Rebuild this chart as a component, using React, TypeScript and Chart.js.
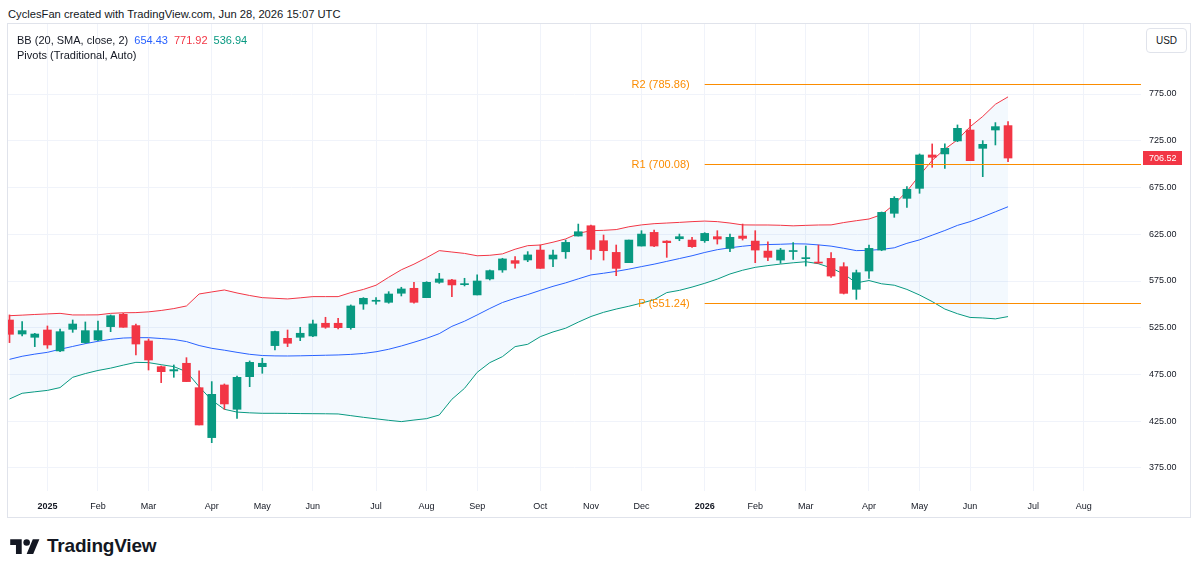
import React, { useEffect, useRef } from 'react';
import { Chart, registerables } from 'chart.js';

Chart.register(...registerables);

// Weekly bars, index 0 = week of Dec 16, 2024 ... index 79 = week of Jun 22, 2026
const opens = [
  533.3, 518.3, 514.8, 522.6, 500.2, 523.3, 509.1, 511.9, 526.2, 539.4,
  527.3, 510.9, 483.4, 478.8, 487.0, 460.9, 407.5, 463.8, 437.8, 472.7,
  483.4, 505.9, 513.7, 514.8, 516.2, 529.8, 529.8, 525.1, 550.4, 553.3,
  552.2, 561.9, 567.2, 557.2, 573.6, 576.1, 571.1, 560.1, 577.2, 586.8,
  596.8, 597.5, 608.1, 598.5, 606.3, 623.1, 634.1, 618.1, 605.6, 594.6,
  612.4, 627.0, 617.7, 620.2, 618.8, 618.1, 622.4, 609.9, 623.1, 617.7,
  607.0, 597.4, 606.5, 598.9, 595.0, 599.2, 590.3, 566.1, 585.7, 608.1,
  647.4, 663.4, 674.1, 709.8, 710.9, 724.8, 736.5, 716.9, 736.5, 741.2,
];
const highs = [
  538.7, 531.5, 519.0, 526.9, 523.7, 533.3, 531.2, 532.2, 538.7, 540.4,
  529.0, 513.0, 484.1, 485.2, 493.0, 478.8, 467.4, 464.9, 473.4, 489.5,
  492.3, 521.5, 522.6, 525.5, 533.3, 536.2, 535.1, 549.4, 557.2, 557.2,
  563.6, 568.3, 573.6, 574.3, 583.2, 576.8, 577.9, 581.5, 586.8, 599.3,
  601.1, 606.4, 613.5, 608.1, 618.8, 635.9, 634.9, 624.2, 613.5, 618.8,
  628.8, 629.5, 618.1, 625.2, 621.7, 626.7, 628.8, 625.2, 635.9, 628.8,
  617.0, 609.9, 616.0, 612.4, 613.5, 605.3, 594.6, 586.7, 613.5, 648.8,
  665.2, 675.9, 710.9, 721.6, 721.6, 741.9, 747.9, 725.1, 744.4, 745.4,
];
const lows = [
  509.1, 516.2, 504.8, 503.0, 499.4, 520.1, 508.4, 511.2, 520.8, 525.5,
  495.9, 479.8, 466.3, 472.0, 467.4, 421.0, 402.1, 437.8, 428.1, 462.0,
  476.3, 501.2, 504.8, 511.2, 515.5, 524.4, 523.7, 523.4, 544.7, 550.1,
  551.2, 559.0, 551.2, 557.2, 572.5, 558.3, 569.7, 560.1, 576.1, 584.3,
  588.6, 595.7, 588.5, 590.3, 599.2, 623.1, 598.1, 597.4, 580.7, 594.6,
  612.4, 611.7, 600.3, 618.1, 611.0, 616.3, 614.5, 606.3, 618.8, 594.6,
  596.7, 593.9, 598.1, 591.0, 593.9, 578.9, 561.1, 555.4, 577.8, 607.4,
  643.1, 653.8, 668.8, 696.6, 695.5, 724.0, 703.7, 686.6, 720.5, 702.7,
];
const closes = [
  518.0, 521.9, 518.3, 506.6, 520.8, 529.0, 521.9, 521.9, 537.9, 525.5,
  507.6, 490.5, 478.0, 480.2, 467.4, 421.0, 453.8, 443.5, 472.0, 488.0,
  487.0, 521.0, 508.4, 519.1, 529.1, 525.5, 525.1, 548.3, 556.5, 554.4,
  561.1, 566.5, 552.2, 573.6, 577.2, 570.8, 571.8, 575.0, 586.1, 598.6,
  593.9, 602.9, 588.5, 602.8, 616.3, 627.7, 608.8, 607.4, 588.5, 618.8,
  625.2, 612.4, 616.0, 622.4, 611.7, 625.9, 619.9, 621.7, 620.6, 608.1,
  600.3, 608.1, 607.5, 599.6, 594.2, 580.3, 561.8, 583.9, 609.9, 648.4,
  663.4, 673.1, 709.8, 707.3, 716.9, 738.3, 703.7, 721.2, 740.1, 706.52,
];

// Bollinger Bands (20, SMA, close, 2)
const bbUpper = [
  537.9, 538.5, 539.2, 539.8, 540.4, 538.7, 538.7, 538.8, 540.4, 541.0,
  541.2, 542.0, 543.5, 545.5, 548.3, 561.1, 563.3, 565.4, 562.2, 559.5,
  557.2, 556.5, 555.8, 557.0, 558.3, 558.3, 558.3, 562.6, 566.0, 570.5,
  579.0, 587.0, 593.0, 600.0, 607.5, 606.0, 604.5, 602.0, 602.5, 604.0,
  609.0, 612.8, 613.5, 616.5, 620.0, 626.0, 628.8, 629.2, 630.0, 633.0,
  635.0, 636.3, 637.0, 637.7, 638.5, 639.1, 638.5, 637.0, 635.0, 634.9,
  634.9, 634.6, 634.0, 634.5, 634.9, 635.0, 637.5, 639.5, 641.3, 646.0,
  657.0, 671.0, 688.0, 704.0, 716.0, 726.0, 740.0, 751.0, 764.0, 771.92,
];
const bbMiddle = [
  491.2, 494.5, 496.8, 498.7, 502.0, 505.0, 508.0, 510.5, 512.6, 514.0,
  514.4, 514.4, 513.5, 512.5, 510.2, 506.0, 503.0, 501.0, 498.7, 496.6,
  495.3, 494.9, 494.8, 495.0, 495.3, 495.6, 495.9, 496.5, 497.5, 499.3,
  502.0, 505.5, 509.5, 513.7, 518.7, 526.5, 532.0, 538.7, 545.6, 552.0,
  556.5, 560.5, 565.0, 569.3, 573.0, 577.3, 581.5, 583.3, 585.3, 587.7,
  590.4, 593.0, 596.0, 599.0, 602.0, 605.5, 608.5, 610.5, 612.2, 613.5,
  614.0, 614.3, 614.8, 614.6, 613.6, 612.3, 610.0, 607.5, 607.8, 608.8,
  610.5, 615.3, 619.0, 624.0, 629.0, 634.5, 638.5, 643.6, 649.0, 654.43,
];
const bbLower = [
  448.8, 454.9, 456.5, 458.0, 461.0, 472.0, 476.0, 479.3, 481.8, 485.0,
  488.0, 487.7, 485.5, 483.4, 478.0, 462.0, 447.5, 437.8, 434.8, 434.0,
  433.5, 433.5, 433.4, 433.2, 433.1, 433.0, 432.8, 431.0, 429.2, 427.6,
  426.0, 424.6, 426.3, 427.8, 431.7, 448.5, 460.2, 477.3, 487.7, 494.1,
  504.8, 507.3, 515.5, 520.5, 524.5, 531.0, 537.0, 541.5, 545.0, 548.0,
  551.4, 555.0, 562.6, 565.0, 568.5, 572.5, 577.0, 582.5, 586.5, 589.6,
  591.5, 593.1, 594.5, 595.6, 593.5, 589.0, 582.5, 573.0, 575.5, 572.0,
  570.5, 566.0, 560.0, 553.0, 545.0, 540.0, 536.0, 535.5, 534.5, 536.94,
];

// Time axis
const timeTickIndex = [3, 7, 11, 16, 20, 24, 29, 33, 37, 42, 46, 50, 55, 59, 63, 68, 72, 76, 81, 85];
const timeTickLabels = ['2025', 'Feb', 'Mar', 'Apr', 'May', 'Jun', 'Jul', 'Aug', 'Sep', 'Oct', 'Nov', 'Dec', '2026', 'Feb', 'Mar', 'Apr', 'May', 'Jun', 'Jul', 'Aug'];
const yearLabels = ['2025', '2026'];

// Price axis
const priceTicks = [375, 425, 475, 525, 575, 625, 675, 725, 775];

// Pivots (Traditional, Auto)
const pivotNames = ['R2', 'R1', 'P'];
const pivotValues = [785.86, 700.08, 551.24];
const pivotStartIndex = 55;

const lastPrice = 706.52;

const UP = '#089981';
const DOWN = '#f23645';
const BLUE = '#2962ff';
const PIVOT = '#fb8c00';
const GRID = '#f0f3fa';
const TEXT = '#131722';
const FONT = '"Liberation Sans", Arial, sans-serif';

const overlayPlugin = {
  id: 'overlay',
  afterDatasetsDraw(chart: any) {
    const { ctx, chartArea, scales } = chart;
    const x = scales.x;
    const y = scales.y;
    ctx.save();
    ctx.beginPath();
    ctx.rect(chartArea.left, chartArea.top, chartArea.right - chartArea.left, chartArea.bottom - chartArea.top);
    ctx.clip();
    pivotValues.forEach((v, k) => {
      const py = Math.round(y.getPixelForValue(v)) + 0.5;
      const x0 = x.getPixelForValue(pivotStartIndex);
      ctx.strokeStyle = PIVOT;
      ctx.lineWidth = 1;
      ctx.beginPath();
      ctx.moveTo(x0, py);
      ctx.lineTo(chartArea.right, py);
      ctx.stroke();
      ctx.fillStyle = PIVOT;
      ctx.font = `11px ${FONT}`;
      ctx.textAlign = 'right';
      ctx.textBaseline = 'middle';
      ctx.fillText(`${pivotNames[k]} (${v.toFixed(2)})`, x0 - 15, py);
    });
    ctx.restore();
  },
  afterDraw(chart: any) {
    const { ctx, scales } = chart;
    const y = scales.y;
    const py = Math.round(y.getPixelForValue(lastPrice));
    ctx.save();
    ctx.fillStyle = DOWN;
    ctx.fillRect(y.left + 2, py - 7, 39, 14);
    ctx.fillStyle = '#ffffff';
    ctx.font = `9px ${FONT}`;
    ctx.textAlign = 'left';
    ctx.textBaseline = 'middle';
    ctx.fillText(lastPrice.toFixed(2), y.left + 8, py + 0.5);
    ctx.restore();
  },
};

export default function App() {
  const canvasRef = useRef<HTMLCanvasElement>(null);

  useEffect(() => {
    const canvas = canvasRef.current;
    if (!canvas) return;
    const candleColors = closes.map((c, i) => (c >= opens[i] ? UP : DOWN));
    const line = (vals: number[]) => vals.map((v, i) => ({ x: i, y: v }));

    const chart = new Chart(canvas, {
      type: 'bar',
      data: {
        datasets: [
          {
            type: 'line',
            label: 'BB Upper',
            data: line(bbUpper),
            borderColor: DOWN,
            borderWidth: 1,
            pointRadius: 0,
            tension: 0,
            fill: '+2',
            backgroundColor: 'rgba(33,150,243,0.055)',
            order: 5,
          },
          {
            type: 'line',
            label: 'BB Basis',
            data: line(bbMiddle),
            borderColor: BLUE,
            borderWidth: 1,
            pointRadius: 0,
            tension: 0,
            fill: false,
            order: 4,
          },
          {
            type: 'line',
            label: 'BB Lower',
            data: line(bbLower),
            borderColor: UP,
            borderWidth: 1,
            pointRadius: 0,
            tension: 0,
            fill: false,
            order: 3,
          },
          {
            type: 'bar',
            label: 'Wicks',
            data: lows.map((l, i) => ({ x: i, y: [l, highs[i]] })),
            backgroundColor: candleColors,
            borderWidth: 0,
            barThickness: 1,
            grouped: false,
            order: 1,
          } as any,
          {
            type: 'bar',
            label: 'Bodies',
            data: opens.map((o, i) => ({ x: i, y: [o, closes[i]] })),
            backgroundColor: candleColors,
            borderWidth: 0,
            barThickness: 8,
            minBarLength: 1,
            grouped: false,
            order: 0,
          } as any,
        ],
      },
      options: {
        animation: false,
        responsive: false,
        devicePixelRatio: 1,
        layout: { padding: 0 },
        events: [],
        plugins: {
          legend: { display: false },
          tooltip: { enabled: false },
          filler: { drawTime: 'beforeDatasetsDraw' },
        },
        scales: {
          x: {
            type: 'linear',
            position: 'bottom',
            min: -0.119,
            max: 89.52,
            offset: false,
            afterBuildTicks: (s: any) => {
              s.ticks = timeTickIndex.map((v) => ({ value: v }));
            },
            afterFit: (s: any) => {
              s.height = 26;
              s.paddingLeft = 0;
              s.paddingRight = 0;
            },
            ticks: {
              autoSkip: false,
              maxRotation: 0,
              padding: 10,
              color: TEXT,
              font: (ctx: any) => {
                const idx = timeTickIndex.indexOf(ctx.tick ? ctx.tick.value : -1);
                const lbl = idx >= 0 ? timeTickLabels[idx] : '';
                return { family: FONT, size: 9, weight: yearLabels.includes(lbl) ? 'bold' : 'normal' };
              },
              callback: (v: any) => {
                const idx = timeTickIndex.indexOf(Number(v));
                return idx >= 0 ? timeTickLabels[idx] : '';
              },
            },
            grid: { color: GRID, drawTicks: false, offset: false },
            border: { display: false },
          } as any,
          y: {
            type: 'linear',
            position: 'right',
            min: 350.4,
            max: 849.87,
            afterBuildTicks: (s: any) => {
              s.ticks = priceTicks.map((v) => ({ value: v }));
            },
            afterFit: (s: any) => {
              s.width = 49;
              s.paddingTop = 0;
              s.paddingBottom = 0;
            },
            ticks: {
              padding: 8,
              color: TEXT,
              font: { family: FONT, size: 9 },
              callback: (v: any) => Number(v).toFixed(2),
            },
            grid: { color: GRID, drawTicks: false },
            border: { display: false },
          } as any,
        },
      },
      plugins: [overlayPlugin],
    } as any);

    return () => chart.destroy();
  }, []);

  return (
    <div
      style={{
        position: 'fixed',
        left: 0,
        top: 0,
        width: 1200,
        height: 574,
        background: '#ffffff',
        fontFamily: FONT,
        color: TEXT,
        overflow: 'hidden',
      }}
    >
      <div style={{ position: 'absolute', left: 8, top: 7, fontSize: 11.2, lineHeight: '14px', whiteSpace: 'nowrap' }}>
        CyclesFan created with TradingView.com, Jun 28, 2026 15:07 UTC
      </div>
      <div
        style={{
          position: 'absolute',
          left: 7,
          top: 23,
          width: 1182,
          height: 493,
          border: '1px solid #e0e3eb',
        }}
      >
        <canvas
          ref={canvasRef}
          width={1182}
          height={493}
          style={{ position: 'absolute', left: 0, top: 0, width: 1182, height: 493 }}
        />
        <div style={{ position: 'absolute', left: 9, top: 10, fontSize: 11, lineHeight: '13px', whiteSpace: 'nowrap' }}>
          <span>BB (20, SMA, close, 2)</span>
          <span style={{ color: BLUE, marginLeft: 6 }}>654.43</span>
          <span style={{ color: DOWN, marginLeft: 6 }}>771.92</span>
          <span style={{ color: UP, marginLeft: 6 }}>536.94</span>
        </div>
        <div style={{ position: 'absolute', left: 9, top: 25, fontSize: 11, lineHeight: '13px', whiteSpace: 'nowrap' }}>
          Pivots (Traditional, Auto)
        </div>
        <div
          style={{
            position: 'absolute',
            left: 1138,
            top: 4,
            width: 39,
            height: 23,
            border: '1px solid #e0e3eb',
            borderRadius: 4,
            fontSize: 10,
            lineHeight: '23px',
            textAlign: 'center',
            background: '#ffffff',
          }}
        >
          USD
        </div>
      </div>
      <svg style={{ position: 'absolute', left: 10, top: 536 }} width={30} height={23} viewBox="0 0 36 28">
        <path d="M14 22H7V11H0V4h14v18zM28 22h-8l7.5-18h8L28 22z" fill="#131722" />
        <circle cx="20" cy="8" r="4" fill="#131722" />
      </svg>
      <div
        style={{
          position: 'absolute',
          left: 47,
          top: 535,
          fontSize: 19,
          lineHeight: '22px',
          fontWeight: 'bold',
          whiteSpace: 'nowrap',
          letterSpacing: -0.2,
        }}
      >
        TradingView
      </div>
    </div>
  );
}
